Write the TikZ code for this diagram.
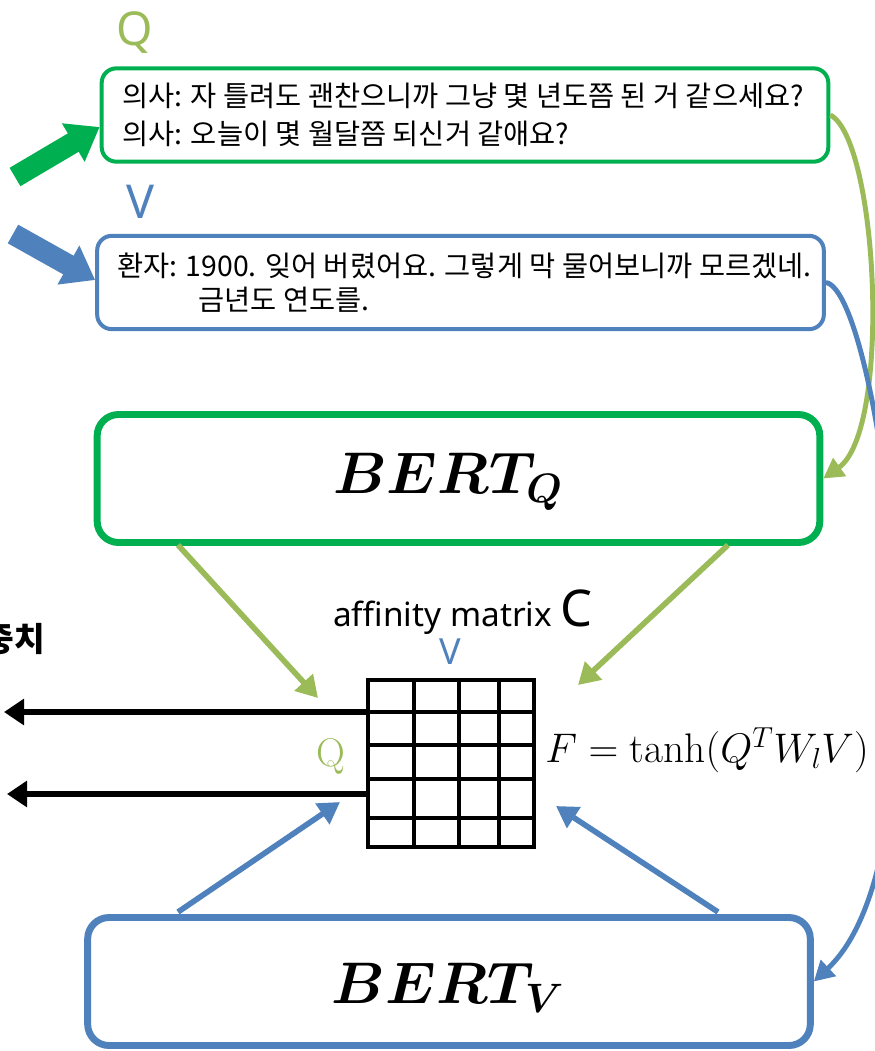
\documentclass[tikz,border=0pt]{standalone}
\usepackage{fix-cm}
\usepackage{fontspec}
\usepackage{amsmath,bm}
\usetikzlibrary{arrows.meta}
\setsansfont{Noto Sans}
\newfontfamily\kr{Noto Sans CJK KR}
\definecolor{dgreen}{HTML}{00B050}
\definecolor{lgreen}{HTML}{9BBB59}
\definecolor{mblue}{HTML}{4F81BD}
\tikzset{
  px/.style={x=0.75pt,y=-0.75pt},
  dlgbox/.style={draw, rounded corners=11pt, line width=3pt, inner sep=0pt, minimum width=545pt},
  bertbox/.style={draw, rounded corners=16pt, line width=5.2pt, inner sep=0pt, minimum width=542pt, minimum height=96pt},
  krtxt/.style={font=\kr\fontsize{21.3}{24}\selectfont, anchor=west, inner sep=0pt},
  bigarrow/.style={line width=16pt, -{Triangle[length=23pt,width=32pt]}},
  diagarrow/.style={line width=4.2pt, -{Triangle[length=16pt,width=18pt]}},
  curvearrow/.style={line width=3.7pt, -{Triangle[length=15pt,width=16pt]}},
  blackarrow/.style={line width=5.2pt, -{Triangle[length=15pt,width=19pt]}},
  gridline/.style={line width=3pt, line cap=rect},
}
\begin{document}
\begin{tikzpicture}[px]
\useasboundingbox (0,0) rectangle (875,1051);
\clip (0,0) rectangle (875,1051);
\fill[white] (0,0) rectangle (875,1051);

% labels Q, V
\node[text=lgreen, font=\sffamily\fontsize{35}{35}\selectfont] (qlab) at (135,33) {Q};
\node[text=mblue, font=\sffamily\fontsize{35}{35}\selectfont] (vlab) at (140,202) {V};

% dialogue boxes
\node[dlgbox, draw=dgreen, minimum height=70pt] (box1) at (465,115) {};
\node[krtxt] (t1a) at (122,96) {의사: 자 틀려도 괜찬으니까 그냥 몇 년도쯤 된 거 같으세요?};
\node[krtxt] (t1b) at (122,134) {의사: 오늘이 몇 월달쯤 되신거 같애요?};

\node[dlgbox, draw=mblue, minimum height=70pt] (box2) at (460.5,282.5) {};
\node[krtxt] (t2a) at (117,266) {환자: 1900. 잊어 버렸어요. 그렇게 막 물어보니까 모르겠네.};
\node[krtxt] (t2b) at (198,300) {금년도 연도를.};

% block arrows
\coordinate (ga) at (15,177);
\coordinate (va) at (13,234);
\draw[bigarrow, dgreen] (ga) -- (box1.west |- 0,127);
\draw[bigarrow, mblue] (va) -- (box2.west |- 0,280);

% BERT boxes
\node[bertbox, draw=dgreen] (bertq) at (458.5,478.5) {};
\node[font=\fontsize{44}{44}\selectfont] (bqt) at (448,482) {$\bm{BERT_Q}$};
\node[bertbox, draw=mblue] (bertv) at (449,981.5) {};
\node[font=\fontsize{44}{44}\selectfont] (bvt) at (448,988) {$\bm{BERT_V}$};

% affinity matrix grid
\foreach \x in {368,414.3,458.8,498.6,534} {\draw[gridline] (\x,680) -- (\x,847);}
\foreach \y in {680,712,744.5,779,818,847} {\draw[gridline] (368,\y) -- (534,\y);}
\coordinate (gtl) at (368,712);
\coordinate (gbl) at (368,794);
\coordinate (ltip1) at (4,712);
\coordinate (ltip2) at (7,794);
\draw[blackarrow] (gtl) -- (ltip1);
\draw[blackarrow] (gbl) -- (ltip2);

\node[font=\sffamily\fontsize{25}{25}\selectfont, anchor=base] (aff) at (463,626) {affinity matrix \fontsize{38}{38}\selectfont C};
\node[text=mblue, font=\sffamily\fontsize{27}{27}\selectfont] (vsm) at (450,652) {V};
\node[text=lgreen, font=\fontsize{30}{30}\selectfont] (qsm) at (331,756) {Q};
\node[font=\bfseries\kr\fontsize{25}{25}\selectfont, anchor=east] (wt) at (50,639) {가중치};
\node[font=\fontsize{31}{31}\selectfont, anchor=west, inner sep=0pt] (feq) at (545,750) {$F=\tanh(Q^TW_lV)$};

% diagonal arrows
\coordinate (q1s) at (178,545); \coordinate (q1e) at (318,698);
\coordinate (q2s) at (728,545); \coordinate (q2e) at (578,685);
\coordinate (v1s) at (178,912); \coordinate (v1e) at (340,802);
\coordinate (v2s) at (718,912); \coordinate (v2e) at (556,806);
\draw[diagarrow, lgreen] (q1s) -- (q1e);
\draw[diagarrow, lgreen] (q2s) -- (q2e);
\draw[diagarrow, mblue] (v1s) -- (v1e);
\draw[diagarrow, mblue] (v2s) -- (v2e);

% curved connectors
\draw[curvearrow, lgreen] (box1.east) .. controls (878,140) and (892,430) .. (bertq.east);
\draw[curvearrow, mblue] (box2.east) .. controls (880,290) and (955,850) .. (bertv.east);
\end{tikzpicture}
\end{document}
